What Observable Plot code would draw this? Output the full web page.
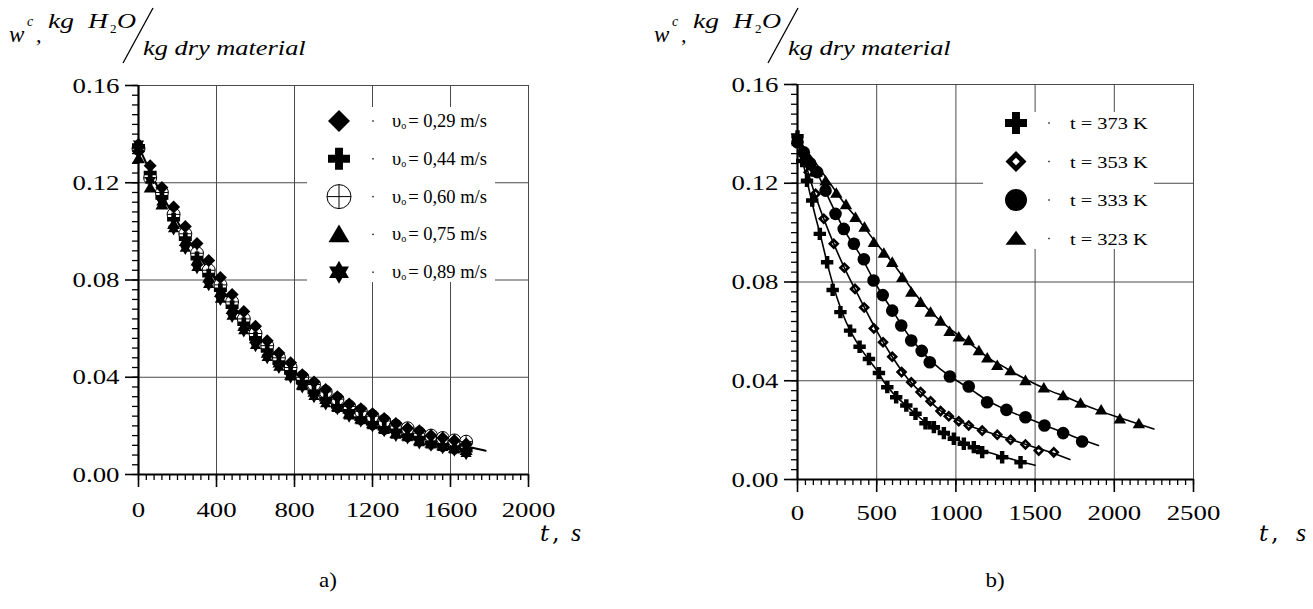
<!DOCTYPE html>
<html><head><meta charset="utf-8">
<script src="https://cdn.jsdelivr.net/npm/d3@7"></script>
<script src="https://cdn.jsdelivr.net/npm/@observablehq/plot@0.6"></script>
<style>
body{margin:0;background:#fff;}
#wrap{position:relative;width:1313px;height:609px;overflow:hidden;background:#fff;}
#left,#right{position:absolute;top:0;}
#left{left:0;} #right{left:640px;}
#ann{position:absolute;left:0;top:0;}
</style></head><body>
<div id="wrap"><div id="left"></div><div id="right"></div><svg id="ann" width="1313" height="609"></svg></div>
<script>
// ---------- Chart a) : air velocity series ----------
const tA = [0,60,120,180,240,300,360,420,480,540,600,660,720,780,840,900,960,1020,1080,1140,1200,1260,1320,1380,1440,1500,1560,1620,1680];
const wV029 = [0.133,0.127,0.118,0.110,0.102,0.095,0.088,0.081,0.074,0.067,0.061,0.055,0.050,0.046,0.041,0.038,0.035,0.032,0.029,0.027,0.025,0.023,0.021,0.019,0.018,0.016,0.015,0.014,0.0125];
const wV044 = [0.135,0.124,0.114,0.105,0.097,0.089,0.082,0.076,0.069,0.062,0.056,0.051,0.046,0.042,0.038,0.034,0.031,0.028,0.026,0.023,0.021,0.019,0.018,0.016,0.015,0.013,0.012,0.011,0.010];
const wV060 = [0.134,0.122,0.116,0.107,0.099,0.091,0.084,0.078,0.071,0.064,0.058,0.053,0.048,0.044,0.040,0.037,0.034,0.031,0.028,0.026,0.024,0.022,0.020,0.019,0.017,0.016,0.015,0.014,0.0135];
const wV075 = [0.130,0.118,0.111,0.103,0.096,0.088,0.081,0.075,0.068,0.061,0.056,0.050,0.046,0.041,0.037,0.034,0.031,0.028,0.025,0.023,0.021,0.019,0.017,0.016,0.014,0.013,0.012,0.011,0.010];
const wV089 = [0.136,0.121,0.112,0.101,0.093,0.085,0.078,0.072,0.065,0.059,0.053,0.048,0.044,0.040,0.036,0.032,0.029,0.027,0.024,0.022,0.020,0.018,0.016,0.015,0.013,0.012,0.011,0.010,0.0085];
const fitA_t = [0,100,200,300,400,500,600,700,800,900,1000,1100,1200,1300,1400,1500,1600,1700,1780];
const fitA_w = [0.135,0.118,0.104,0.091,0.0795,0.068,0.0573,0.0485,0.041,0.0351,0.030,0.0257,0.022,0.0193,0.0169,0.0148,0.013,0.0112,0.0098];
const xTicksA = [0,400,800,1200,1600,2000];
const legendA = ["0,29","0,44","0,60","0,75","0,89"];

// ---------- Chart b) : temperature series ----------
const tK373 = [0,30,60,93,141,187,222,271,332,392,451,514,567,623,687,745,808,861,924,987,1050,1113,1166,1292,1408];
const wK373 = [0.139,0.129,0.121,0.113,0.0995,0.088,0.0768,0.0678,0.0603,0.0538,0.0488,0.0431,0.0374,0.0333,0.0300,0.0266,0.0228,0.0212,0.0188,0.0165,0.0145,0.0131,0.0111,0.0090,0.0070];
const tK353 = [0,40,71,114,166,229,296,363,421,482,540,598,657,718,777,840,903,955,1018,1081,1166,1261,1345,1439,1523,1618];
const wK353 = [0.138,0.131,0.1245,0.1157,0.1056,0.0955,0.0858,0.0772,0.0697,0.0612,0.0556,0.0497,0.0435,0.0394,0.0354,0.0317,0.0277,0.0256,0.0236,0.0219,0.0198,0.0181,0.0161,0.0142,0.0117,0.0110];
const tK333 = [0,40,80,124,177,240,292,356,419,480,538,598,655,718,784,835,962,1081,1197,1319,1439,1559,1677,1797];
const wK333 = [0.1366,0.1325,0.128,0.1245,0.117,0.1076,0.1015,0.0955,0.0892,0.0806,0.0747,0.0684,0.0624,0.0563,0.0521,0.0475,0.0417,0.0377,0.0313,0.0282,0.0252,0.0219,0.0188,0.0154];
const tK323 = [0,60,120,177,245,306,366,423,482,545,598,661,718,777,840,903,960,1018,1081,1145,1198,1261,1345,1439,1555,1677,1787,1917,2035,2155];
const wK323 = [0.137,0.131,0.1245,0.121,0.116,0.1114,0.1062,0.1022,0.0961,0.0917,0.0880,0.0819,0.0759,0.0718,0.0678,0.0642,0.0600,0.0578,0.0563,0.0522,0.0493,0.0462,0.0441,0.0401,0.0371,0.0340,0.0309,0.0282,0.0246,0.0226];
const fit373_t = [0,50,100,150,200,250,300,350,400,450,500,550,600,700,800,900,1000,1100,1200,1300,1400,1500];
const fit373_w = [0.139,0.124,0.110,0.0975,0.0845,0.0735,0.0648,0.0583,0.0530,0.0485,0.0443,0.0392,0.0352,0.0292,0.0236,0.0197,0.0163,0.0135,0.0111,0.0092,0.0074,0.0058];
const fit353_t = [0,50,100,200,300,400,500,600,700,800,900,1000,1100,1200,1300,1400,1500,1600,1720];
const fit353_w = [0.139,0.128,0.1175,0.1000,0.0852,0.0725,0.0602,0.0495,0.0405,0.0340,0.0280,0.0244,0.0215,0.0192,0.0172,0.0151,0.0130,0.0109,0.0081];
const fit333_t = [0,50,100,200,300,400,500,600,700,800,900,1000,1100,1200,1300,1400,1500,1600,1700,1800,1900];
const fit333_w = [0.138,0.133,0.1275,0.1135,0.1005,0.0905,0.0785,0.0684,0.0585,0.0508,0.0448,0.0403,0.0362,0.0320,0.0287,0.0260,0.0236,0.0210,0.0185,0.0160,0.0138];
const fit323_t = [0,100,200,300,400,500,600,700,800,900,1000,1100,1200,1300,1400,1500,1600,1700,1800,1900,2000,2100,2250];
const fit323_w = [0.138,0.1295,0.1205,0.1115,0.1040,0.0955,0.0878,0.0790,0.0707,0.0644,0.0592,0.0545,0.0495,0.0457,0.0420,0.0387,0.0358,0.0333,0.0305,0.0280,0.0257,0.0236,0.0205];
const xTicksB = [0,500,1000,1500,2000,2500];
const legendB = ["373","353","333","323"];

const yTicks = [0,0.04,0.08,0.12,0.16];

// ---------- custom symbols ----------
const rad = s => Math.sqrt(s / Math.PI);
const S = {
  diamond:{draw(c,s){const R=rad(s);c.moveTo(0,-R);c.lineTo(R,0);c.lineTo(0,R);c.lineTo(-R,0);c.closePath();}},
  plus:{draw(c,s){const R=rad(s),a=R*0.36;c.moveTo(-a,-R);c.lineTo(a,-R);c.lineTo(a,-a);c.lineTo(R,-a);c.lineTo(R,a);c.lineTo(a,a);c.lineTo(a,R);c.lineTo(-a,R);c.lineTo(-a,a);c.lineTo(-R,a);c.lineTo(-R,-a);c.lineTo(-a,-a);c.closePath();}},
  ocross:{draw(c,s){const R=rad(s);c.moveTo(R,0);c.arc(0,0,R,0,2*Math.PI);c.closePath();c.moveTo(-R,0);c.lineTo(R,0);c.moveTo(0,-R);c.lineTo(0,R);}},
  tri:{draw(c,s){const R=rad(s);c.moveTo(0,-0.95*R);c.lineTo(R,0.75*R);c.lineTo(-R,0.75*R);c.closePath();}},
  triFlat:{draw(c,s){const R=rad(s);c.moveTo(0,-0.75*R);c.lineTo(R,0.6*R);c.lineTo(-R,0.6*R);c.closePath();}},
  star:{draw(c,s){const R=rad(s),h=0.866*R;c.moveTo(0,-R);c.lineTo(h,R/2);c.lineTo(-h,R/2);c.closePath();c.moveTo(0,R);c.lineTo(-h,-R/2);c.lineTo(h,-R/2);c.closePath();}},
  hdiamond:{draw(c,s){const R=rad(s),k=0.36*R;c.moveTo(0,-R);c.lineTo(R,0);c.lineTo(0,R);c.lineTo(-R,0);c.closePath();c.moveTo(0,-k);c.lineTo(-k,0);c.lineTo(0,k);c.lineTo(k,0);c.closePath();}},
  circle:{draw(c,s){const R=rad(s);c.moveTo(R,0);c.arc(0,0,R,0,2*Math.PI);c.closePath();}}
};

const gridStyle = {stroke:"#4a4a4a", strokeOpacity:1, strokeWidth:1};
const minorY = d3.range(0,41).map(i => +(i*0.004).toFixed(3));
function axes(xTicks, minorX, pad) {
  return [
    Plot.gridX(xTicks.slice(1), gridStyle),
    Plot.gridY(yTicks.slice(1), gridStyle),
    Plot.axisX(minorX, {tickSize:6, tickFormat:()=>"", strokeWidth:1.3, label:null}),
    Plot.axisX(xTicks, {tickSize:13, tickPadding:pad, tickFormat:d3.format("d"), fontSize:22, strokeWidth:1.6, label:null}),
    Plot.axisY(minorY, {tickSize:6, tickFormat:()=>"", strokeWidth:1.3, label:null}),
    Plot.axisY(yTicks, {tickSize:13, tickPadding:6, tickFormat:d3.format(".2f"), fontSize:22, strokeWidth:1.6, label:null}),
    Plot.ruleX([0], {strokeWidth:2.2}),
    Plot.ruleY([0], {strokeWidth:2.2})
  ];
}
const baseStyle = {fontFamily:"'Liberation Serif','Times New Roman',serif", color:"black", background:"transparent", overflow:"visible"};

const plotA = Plot.plot({
  width:640, height:560, marginLeft:138, marginRight:112, marginTop:85, marginBottom:86,
  x:{domain:[0,2000]}, y:{domain:[0,0.16]}, style:baseStyle,
  marks:[
    ...axes(xTicksA, d3.range(0,2001,40), 14),
    Plot.line(fitA_t, {x:fitA_t, y:fitA_w, curve:"monotone-x", stroke:"black", strokeWidth:2}),
    Plot.dot(tA, {x:tA, y:wV060, symbol:S.ocross, r:6.5, fill:"white", stroke:"black", strokeWidth:1}),
    Plot.dot(tA, {x:tA, y:wV029, symbol:S.diamond, r:6.5, fill:"black"}),
    Plot.dot(tA, {x:tA, y:wV044, symbol:S.plus, r:6.5, fill:"black"}),
    Plot.dot(tA, {x:tA, y:wV075, symbol:S.tri, r:6.5, fill:"black"}),
    Plot.dot(tA, {x:tA, y:wV089, symbol:S.star, r:6.5, fill:"black"})
  ]
});
const plotB = Plot.plot({
  width:673, height:560, marginLeft:157, marginRight:120, marginTop:84, marginBottom:81,
  x:{domain:[0,2500]}, y:{domain:[0,0.16]}, style:baseStyle,
  marks:[
    ...axes(xTicksB, d3.range(0,2501,50), 12),
    Plot.line(fit373_t, {x:fit373_t, y:fit373_w, curve:"monotone-x", stroke:"black", strokeWidth:1.6}),
    Plot.line(fit353_t, {x:fit353_t, y:fit353_w, curve:"monotone-x", stroke:"black", strokeWidth:1.6}),
    Plot.line(fit333_t, {x:fit333_t, y:fit333_w, curve:"monotone-x", stroke:"black", strokeWidth:1.6}),
    Plot.line(fit323_t, {x:fit323_t, y:fit323_w, curve:"monotone-x", stroke:"black", strokeWidth:1.6}),
    Plot.dot(tK323, {x:tK323, y:wK323, symbol:S.tri, r:6.2, fill:"black"}),
    Plot.dot(tK333, {x:tK333, y:wK333, symbol:S.circle, r:6.3, fill:"black"}),
    Plot.dot(tK353, {x:tK353, y:wK353, symbol:S.hdiamond, r:5.8, fill:"black"}),
    Plot.dot(tK373, {x:tK373, y:wK373, symbol:S.plus, r:6.2, fill:"black"})
  ]
});
function stretch(svg, k) {
  svg.querySelectorAll('[aria-label$="tick label"] text').forEach(t => {
    const tr = t.getAttribute("transform");
    if (tr) t.setAttribute("transform", tr + ` scale(${k},1)`);
  });
}
stretch(plotA, 1.22); stretch(plotB, 1.22);
document.getElementById("left").append(plotA);
document.getElementById("right").append(plotB);

// ---------- annotations ----------
const ann = d3.select("#ann");
const SERIF = "'Liberation Serif','Times New Roman',serif";
function txt(x, y, str, {size=22, italic=true, family=SERIF, k=1, anchor="start"} = {}) {
  return ann.append("text").attr("transform", `translate(${x},${y}) scale(${k},1)`)
    .attr("font-family", family).attr("font-size", size)
    .attr("font-style", italic ? "italic" : "normal").attr("text-anchor", anchor).attr("fill","black").text(str);
}
function ylabel(dx) {
  txt(9+dx, 42, "w", {size:23});
  txt(27+dx, 26, "c", {size:14});
  txt(36+dx, 42, ",", {size:22});
  txt(48+dx, 28, "kg", {size:22, k:1.25});
  txt(88+dx, 28, "H", {size:22, k:1.25});
  txt(110+dx, 33, "2", {size:13, italic:false});
  txt(117+dx, 28, "O", {size:22, k:1.2});
  ann.append("line").attr("x1",123+dx).attr("y1",63).attr("x2",153+dx).attr("y2",8).attr("stroke","black").attr("stroke-width",1.3);
  txt(143+dx, 55, "kg  dry  material", {size:22, k:1.2});
}
ylabel(0); ylabel(645);

function tlabel(xt, xc, xs) {
  txt(xt, 541, "t", {size:23, family:"'DejaVu Serif',serif"});
  txt(xc, 541, ",", {size:24, italic:false, family:"'DejaVu Serif',serif"});
  txt(xs, 541, "s", {size:26});
}
tlabel(540, 552, 571);
tlabel(1259, 1271, 1296);

txt(328, 587, "a)", {size:20, italic:false, anchor:"middle", k:1.15});
txt(995, 587, "b)", {size:20, italic:false, anchor:"middle", k:1.15});

function symPath(sym, R) { const p = d3.path(); sym.draw(p, Math.PI*R*R); return p.toString(); }

// legend a)
ann.append("rect").attr("x",307).attr("y",107).attr("width",188).attr("height",175).attr("fill","white");
const legSymA = [[S.diamond,11,"black","none"],[S.plus,11,"black","none"],[S.ocross,12,"white","black"],[S.tri,10.5,"black","none"],[S.star,11.5,"black","none"]];
legendA.forEach((lab, i) => {
  const y = 121 + i*37.8;
  const [sym, R, fill, stroke] = legSymA[i];
  ann.append("path").attr("d", symPath(sym, R)).attr("transform", `translate(339,${y})`).attr("fill", fill).attr("stroke", stroke).attr("stroke-width", 1);
  ann.append("rect").attr("x",372.3).attr("y",y-0.7).attr("width",1.4).attr("height",1.4).attr("fill","black");
  const t = ann.append("text").attr("x",392).attr("y",y+6).attr("font-size",18.5).attr("font-family",SERIF).attr("fill","black");
  t.append("tspan").text("υ");
  t.append("tspan").attr("font-size",10).attr("dy",2).text("o");
  t.append("tspan").attr("dy",-2).attr("dx",2).text(`= ${lab} m/s`);
});

// legend b)
ann.append("rect").attr("x",983).attr("y",112).attr("width",171).attr("height",137).attr("fill","white");
const legSymB = [[S.plus,11],[S.hdiamond,10.5],[S.circle,11],[S.triFlat,10.5]];
legendB.forEach((lab, i) => {
  const y = 123 + i*38.5;
  const [sym, R] = legSymB[i];
  ann.append("path").attr("d", symPath(sym, R)).attr("transform", `translate(1016,${y})`).attr("fill", "black");
  ann.append("rect").attr("x",1048.3).attr("y",y-0.7).attr("width",1.4).attr("height",1.4).attr("fill","black");
  txt(1070, y+6, `t = ${lab} K`, {size:17, italic:false, k:1.2});
});
</script>
</body></html>
